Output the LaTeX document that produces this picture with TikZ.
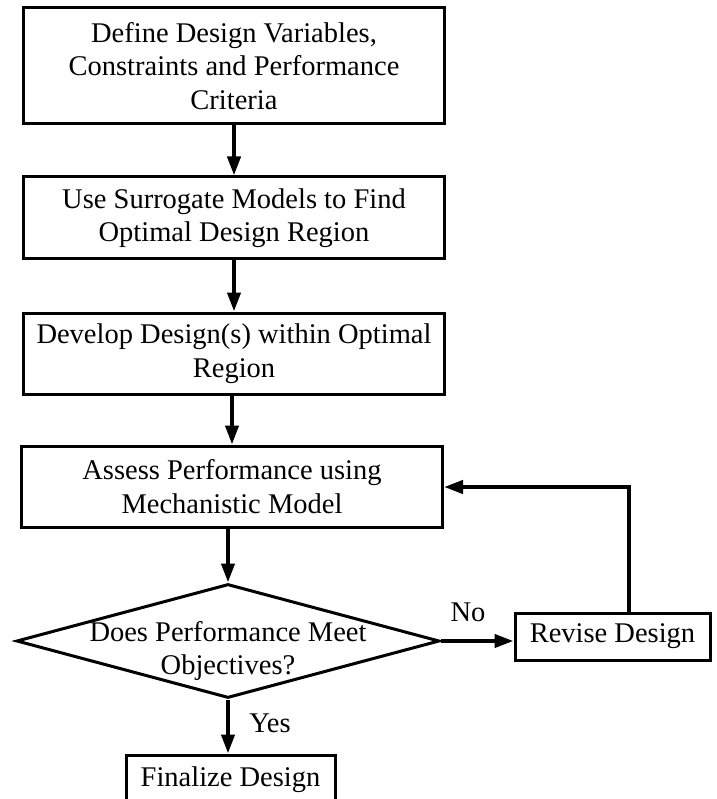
\documentclass[tikz,border=0pt]{standalone}
\usepackage{fontspec}
\setmainfont{Liberation Serif}
\usetikzlibrary{shapes.geometric,arrows.meta}
\begin{document}
\begin{tikzpicture}[x=1pt,y=-1pt,font=\fontsize{28.5}{33.5}\selectfont, line join=miter, >={Triangle[length=19pt,width=13pt]}]
	\tikzset{Step-Box/.style={draw,line width=3pt,align=center,inner sep=0pt,minimum width=421pt},
		Decision-Box/.style={draw,diamond,line width=3pt,inner sep=0pt,minimum width=423pt,minimum height=114pt},
		Flow-Arrow/.style={->,line width=4pt}}
	\useasboundingbox (0,0) rectangle (716,799);
	%Các bước chính
	\node[Step-Box,minimum height=116pt] (Define) at (234,66) {Define Design Variables,\\Constraints and Performance\\Criteria};
	\node[Step-Box,minimum height=82pt] (Surrogate) at (234,218) {Use Surrogate Models to Find\\Optimal Design Region};
	\node[Step-Box,minimum height=81pt] (Develop) at (234,353.5) {Develop Design(s) within Optimal\\Region};
	\node[Step-Box,minimum height=81pt] (Assess) at (232,486.5) {Assess Performance using\\Mechanistic Model};
	%Ô quyết định
	\node[Decision-Box] (Decision) at (228,641) {};
	\node[align=center] (Question) at (228,651) {Does Performance Meet\\Objectives?};
	\node[Step-Box,minimum width=195pt,minimum height=47pt] (Revise) at (612.5,636.5) {Revise Design};
	\node[Step-Box,minimum width=209pt,minimum height=50pt] (Finalize) at (230.5,780) {Finalize Design};
	\node (No) at (468,612) {No};
	\node (Yes) at (270,723) {Yes};
	%Mũi tên
	\draw[Flow-Arrow] (Define) -- (Surrogate);
	\draw[Flow-Arrow] (Surrogate) -- (Develop);
	\draw[Flow-Arrow] (Develop.south -| Assess.north) -- (Assess.north);
	\draw[Flow-Arrow] (Assess.south -| Decision.north) -- (Decision.north);
	\draw[Flow-Arrow] (Decision.south) -- (Decision.south |- Finalize.north);
	\draw[Flow-Arrow] (Decision.east) -- (Decision.east -| Revise.west);
	\coordinate (Loop) at (629,487);
	\draw[Flow-Arrow] (Revise.north -| Loop) -- (Loop) -- (Assess.east |- Loop);
\end{tikzpicture}
\end{document}
